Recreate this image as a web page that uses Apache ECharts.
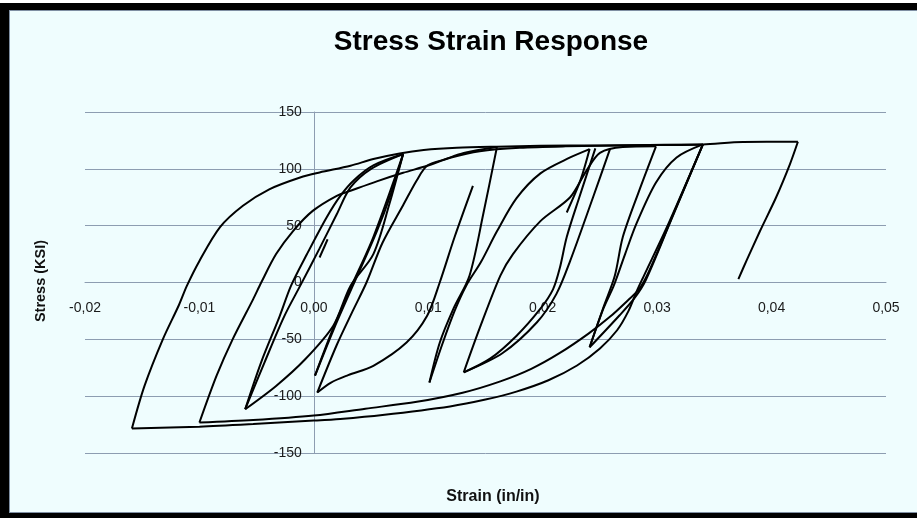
<!DOCTYPE html>
<html>
<head>
<meta charset="utf-8">
<script src="https://cdn.jsdelivr.net/npm/echarts@6/dist/echarts.min.js"></script>
<style>
  html, body { margin: 0; padding: 0; background: #ffffff; }
  #chart { width: 917px; height: 518px; }
</style>
</head>
<body>
<div id="chart"></div>
<script>
// Axis ticks and their printed labels (decimal comma)
const xTickValues = [-0.02, -0.01, 0, 0.01, 0.02, 0.03, 0.04, 0.05];
const xTickLabels = ['-0,02', '-0,01', '0,00', '0,01', '0,02', '0,03', '0,04', '0,05'];
const yTickValues = [-150, -100, -50, 0, 50, 100, 150];

// Hysteresis branches: [strain (in/in), stress (ksi)]
const envelopeLoad = [[-0.0159,-128.5],[-0.0148,-91],[-0.0132,-50],[-0.0118,-20],[-0.0111,-3],[-0.0100,19],[-0.0082,48.7],[-0.0062,67.5],[-0.0039,82],[-0.0012,92.4],[0.0005,96.8],[0.0032,102.7],[0.0052,108.6],[0.0075,113.5],[0.0096,116.5],[0.0125,118.5],[0.0160,119.5],[0.0198,120.2],[0.0250,120.6],[0.0300,121.0],[0.0340,121.5],[0.0375,123.6],[0.0423,123.8]];
const finalUnload = [[0.0423,123.8],[0.0416,104],[0.0404,75],[0.0390,45.5],[0.0378,19],[0.0371,3]];
const compressionToB1 = [[0.0340,121.5],[0.0310,52],[0.0288,5],[0.0282,-8],[0.0275,-25],[0.0265,-42],[0.0250,-58],[0.0230,-73],[0.0205,-86],[0.0177,-96],[0.0150,-103],[0.0119,-109],[0.0060,-116.5],[0.0023,-120],[0.0000,-121.5],[-0.0053,-124.5],[-0.0100,-126.8],[-0.0159,-128.5]];
const compressionToB2 = [[0.0340,121.5],[0.0312,55],[0.0292,8],[0.0284,-6],[0.0272,-18],[0.0259,-30],[0.0240,-45],[0.0215,-62],[0.0190,-76],[0.0163,-87],[0.0130,-97],[0.0090,-105],[0.0045,-111],[0.0000,-117],[-0.0053,-121],[-0.0100,-123.2]];
const reloadFromB2 = [[-0.0100,-123.2],[-0.0085,-82],[-0.0071,-50],[-0.0053,-14.6],[-0.0046,0],[-0.0033,25],[-0.0018,45.5],[-0.0001,63],[0.0020,76.3],[0.0032,80.7],[0.0055,89],[0.0078,96.5],[0.0099,102.7],[0.0120,110],[0.0145,115.5],[0.0180,118.5],[0.0220,119.8],[0.0280,120.8],[0.0340,121.5]];
const unloadToB7 = [[0.0299,119.8],[0.0284,80],[0.0270,40],[0.0263,6],[0.0253,-22],[0.0241,-57]];
const reloadFromB7 = [[0.0241,-57],[0.0253,-23],[0.0262,-3],[0.0272,25],[0.0282,52],[0.0299,88],[0.0317,110],[0.0340,121.5]];
const compressionToB7 = [[0.0340,121.5],[0.0311,52],[0.0290,2],[0.0280,-14],[0.0267,-29],[0.0241,-57]];
const unloadToB5 = [[0.0160,119.2],[0.0148,60],[0.0136,6],[0.0122,-23],[0.0110,-53],[0.0101,-88]];
const reloadFromB5 = [[0.0101,-88],[0.0112,-55],[0.0123,-25],[0.0133,-3],[0.0146,18],[0.0160,45],[0.0177,74],[0.0198,96],[0.0224,110],[0.0241,117.4]];
const compressionToB6 = [[0.0246,118],[0.0232,75],[0.0221,40],[0.0215,13],[0.0209,-6],[0.0198,-23],[0.0177,-47],[0.0154,-67],[0.0131,-79]];
const reloadFromB6 = [[0.0131,-79],[0.0145,-40],[0.0163,6],[0.0174,25],[0.0198,54],[0.0224,75],[0.0238,98],[0.0250,114],[0.0270,119.3],[0.0299,119.8]];
const unloadShort = [[0.0241,117.4],[0.0233,90],[0.0221,61.6]];
const unloadToB6 = [[0.0259,118],[0.0244,75],[0.0224,19],[0.0212,-10],[0.0195,-35],[0.0165,-62],[0.0131,-79]];
const compressionToB3 = [[0.0078,113],[0.0066,69],[0.0052,25],[0.0032,-3],[0.0017,-38],[-0.0008,-68],[-0.0033,-91],[-0.0060,-111.5]];
const reloadFromB3 = [[-0.0060,-111.5],[-0.0046,-70],[-0.0030,-30],[-0.0020,-3],[-0.0006,25],[0.0011,57],[0.0023,76],[0.0035,90],[0.0052,103],[0.0078,113]];
const reloadFromB3b = [[-0.0060,-111.5],[-0.0043,-70],[-0.0026,-30],[-0.0012,-3],[0.0005,30],[0.0020,60],[0.0032,83.6],[0.0050,100],[0.0078,113]];
const compressionToB4 = [[0.0139,85],[0.0123,40],[0.0110,0],[0.0099,-29.3],[0.0081,-52.8],[0.0052,-73.3],[0.0030,-81.5],[0.0015,-88],[0.0003,-96.8]];
const reloadFromB4 = [[0.0003,-96.8],[0.0020,-55],[0.0034,-25],[0.0046,0],[0.0060,35],[0.0078,68],[0.0090,90],[0.0099,102.7],[0.0115,108.5],[0.0131,114],[0.0160,119.2]];
const innerDown = [[0.0078,113],[0.0052,40],[0.0032,-5],[0.0015,-45],[0.0001,-82]];
const innerUp = [[0.0001,-82],[0.0017,-42],[0.0034,-3],[0.0055,45],[0.0068,80],[0.0078,113]];
const smallLoop = [[0.0005,22],[0.0012,38],[0.0009,31],[0.0005,22]];

const branches = [
  envelopeLoad, finalUnload, compressionToB1, compressionToB2, reloadFromB2,
  unloadToB7, reloadFromB7, compressionToB7,
  unloadToB5, reloadFromB5, compressionToB6, reloadFromB6, unloadShort, unloadToB6,
  compressionToB3, reloadFromB3, reloadFromB3b, compressionToB4, reloadFromB4,
  innerDown, innerUp, smallLoop
];

const gridColor = '#8d9db1';
const labelFont = '"Liberation Sans", Arial, sans-serif';

// Plot box; both axes are shifted inward so they cross at the origin
const gridBox = { left: 85, right: 31, top: 112, bottom: 65 };
const plotW = 917 - gridBox.left - gridBox.right;
const plotH = 518 - gridBox.top - gridBox.bottom;
const xMin = xTickValues[0], xMax = xTickValues[xTickValues.length - 1];
const yMin = yTickValues[0], yMax = yTickValues[yTickValues.length - 1];
const yAxisShift = -plotW * (0 - xMin) / (xMax - xMin);
const xAxisShift = -plotH * (0 - yMin) / (yMax - yMin);

const chart = echarts.init(document.getElementById('chart'), null, { renderer: 'canvas' });

chart.setOption({
  animation: false,
  backgroundColor: '#effdfe',
  grid: gridBox,
  xAxis: {
    type: 'value',
    position: 'bottom',
    offset: xAxisShift,
    min: xMin,
    max: xMax,
    interval: 0.01,
    axisLine: { onZero: false, lineStyle: { color: gridColor, width: 1 } },
    axisTick: { show: false },
    splitLine: { show: false },
    axisLabel: {
      margin: 19,
      color: '#1a1a1a',
      fontSize: 14,
      fontFamily: labelFont,
      formatter: function (v) {
        let best = 0;
        for (let i = 1; i < xTickValues.length; i++) {
          if (Math.abs(xTickValues[i] - v) < Math.abs(xTickValues[best] - v)) best = i;
        }
        return xTickLabels[best];
      }
    }
  },
  yAxis: {
    type: 'value',
    position: 'left',
    offset: yAxisShift,
    min: yMin,
    max: yMax,
    interval: 50,
    axisLine: { show: true, onZero: false, lineStyle: { color: gridColor, width: 1 } },
    axisTick: { show: true, length: 4, lineStyle: { color: gridColor } },
    splitLine: { show: true, lineStyle: { color: gridColor, width: 1 } },
    axisLabel: {
      margin: 12,
      color: '#1a1a1a',
      fontSize: 14,
      fontFamily: labelFont
    }
  },
  series: branches.map(function (b) {
    return {
      type: 'line',
      data: b,
      showSymbol: false,
      smooth: 0.3,
      silent: true,
      lineStyle: { color: '#000000', width: 2 },
      z: 3
    };
  }),
  graphic: [
    { type: 'rect', shape: { x: 0, y: 3, width: 917, height: 7 }, style: { fill: '#000' }, z: 100 },
    { type: 'rect', shape: { x: 0, y: 3, width: 9, height: 515 }, style: { fill: '#000' }, z: 100 },
    { type: 'rect', shape: { x: 0, y: 513, width: 917, height: 5 }, style: { fill: '#000' }, z: 100 },
    { type: 'rect', shape: { x: 0, y: 0, width: 917, height: 3 }, style: { fill: '#ffffff' }, z: 100 },
    { type: 'rect', shape: { x: 9, y: 10, width: 908, height: 1 }, style: { fill: '#7f8fa3' }, z: 100 },
    { type: 'rect', shape: { x: 9, y: 10, width: 1, height: 503 }, style: { fill: '#7f8fa3' }, z: 100 },
    { type: 'rect', shape: { x: 9, y: 512, width: 908, height: 1 }, style: { fill: '#7f8fa3' }, z: 100 },
    {
      type: 'text', x: 491, y: 42, z: 100,
      style: { text: 'Stress Strain Response', fill: '#000', font: 'bold 28px "Liberation Sans", Arial, sans-serif',
               textAlign: 'center', textVerticalAlign: 'middle', align: 'center', verticalAlign: 'middle' }
    },
    {
      type: 'text', x: 493, y: 497, z: 100,
      style: { text: 'Strain (in/in)', fill: '#111', font: 'bold 16px "Liberation Sans", Arial, sans-serif',
               textAlign: 'center', textVerticalAlign: 'middle', align: 'center', verticalAlign: 'middle' }
    },
    {
      type: 'text', x: 41, y: 281, rotation: Math.PI / 2, z: 100,
      style: { text: 'Stress (KSI)', fill: '#111', font: 'bold 14.5px "Liberation Sans", Arial, sans-serif',
               textAlign: 'center', textVerticalAlign: 'middle', align: 'center', verticalAlign: 'middle' }
    }
  ]
});
</script>
</body>
</html>
